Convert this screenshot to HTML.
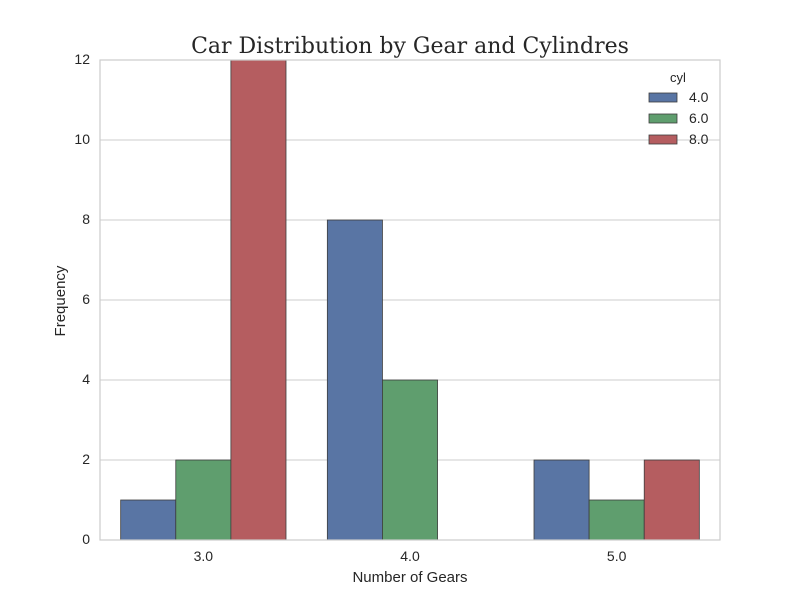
<!DOCTYPE html>
<html><head><meta charset="utf-8"><style>
body{margin:0;background:#fff;}
svg{display:block;font-family:"Liberation Sans",sans-serif;}
</style></head><body>
<svg id="c" width="800" height="600">
<text x="410" y="53" text-anchor="middle" font-family="DejaVu Serif,serif" font-size="22" fill="#262626">Car Distribution by Gear and Cylindres</text>
<g id="grid"></g><g id="bars"></g><g id="axes"></g>
<text x="410" y="582" text-anchor="middle" font-size="15" fill="#262626">Number of Gears</text>
<text transform="translate(65,301) rotate(-90)" text-anchor="middle" font-size="15" fill="#262626">Frequency</text>
<g id="legend"></g>
</svg>
<script>
const categories=["3.0","4.0","5.0"];
const seriesNames=["4.0","6.0","8.0"];
const cyl4=[1,8,2];
const cyl6=[2,4,1];
const cyl8=[12,0,2];
const yTicks=[0,2,4,6,8,10,12];
const colors=["#5975a4","#5f9e6e","#b55d60"];
const series=[cyl4,cyl6,cyl8];
const L=100,R=720,T=60,B=540,yMax=12;
const NS="http://www.w3.org/2000/svg";
function y(v){return B-(v/yMax)*(B-T);}
const band=(R-L)/categories.length;
function xc(i){return L+band*(i+0.5);}
const bw=band*0.8/series.length;
function mk(t,a,p){const e=document.createElementNS(NS,t);for(const k in a)e.setAttribute(k,a[k]);p.appendChild(e);return e;}
const grid=document.getElementById('grid'),bars=document.getElementById('bars'),axes=document.getElementById('axes'),leg=document.getElementById('legend');
yTicks.forEach(t=>{
 const l=mk('line',{x1:L,x2:R,y1:y(t),y2:y(t),stroke:'#cccccc','stroke-width':1},grid);
 
 
 const tx=mk('text',{x:L-10,y:y(t)+4,'text-anchor':'end','font-size':14,fill:'#262626'},axes);
 tx.textContent=t;
 
 
});
series.forEach((s,j)=>{s.forEach((v,i)=>{
 const x0=xc(i)-band*0.4+j*bw;
 const r=mk('rect',{x:x0,y:y(v),width:bw,height:B-y(v),fill:colors[j],stroke:'#3d3d3d','stroke-width':0.8},bars);
 
 
});});
categories.forEach((c,i)=>{
 const tx=mk('text',{x:xc(i),y:B+21,'text-anchor':'middle','font-size':14,fill:'#262626'},axes);
 tx.textContent=c;
 
 
});
const fr=mk('rect',{x:L,y:T,width:R-L,height:B-T,fill:'none',stroke:'#cccccc','stroke-width':1.2},axes);


const lt=mk('text',{x:678,y:82,'text-anchor':'middle','font-size':13,fill:'#262626'},leg);
lt.textContent='cyl';


seriesNames.forEach((n,j)=>{
 const yy=93+j*21;
 const r=mk('rect',{x:649,y:yy,width:28,height:9,fill:colors[j],stroke:'#3d3d3d','stroke-width':0.8},leg);
 
 
 const t=mk('text',{x:689,y:yy+9,'font-size':14,fill:'#262626'},leg);
 t.textContent=n;
 
 
});
</script>
</body></html>
